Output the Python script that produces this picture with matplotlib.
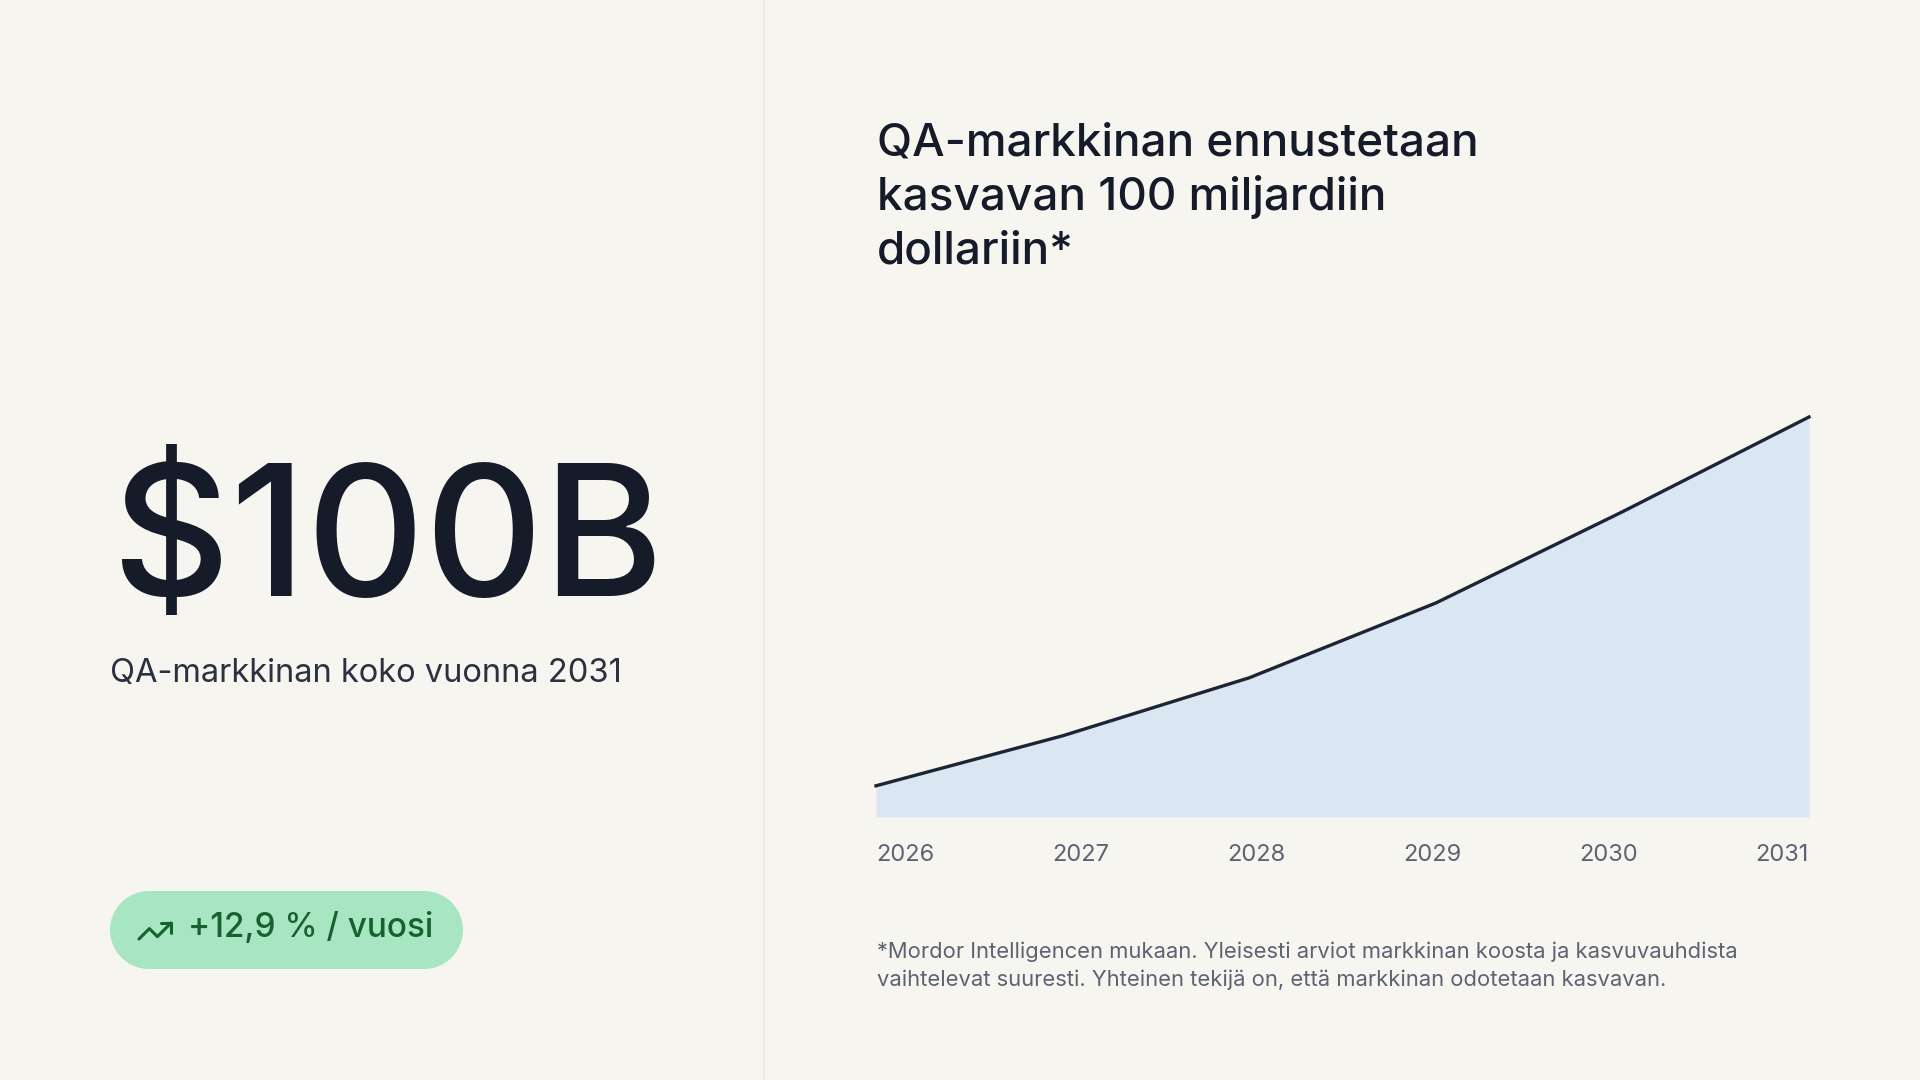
"""
QA market size slide: big number on the left, area chart on the right.
"""

import matplotlib

matplotlib.use("Agg")
import matplotlib.pyplot as plt
from matplotlib.patches import Circle, Rectangle

plt.rcParams["font.family"] = ["Inter", "DejaVu Sans"]

YEARS = [2026, 2027, 2028, 2029, 2030, 2031]
MARKET_SIZE = [7.8, 20.3, 34.8, 53.5, 76.3, 100.0]
YEAR_LABELS = ["2026", "2027", "2028", "2029", "2030", "2031"]

BIG_NUMBER = "$100B"
BIG_CAPTION = "QA-markkinan koko vuonna 2031"
GROWTH_BADGE = "+12,9 % / vuosi"
TITLE_LINES = ["QA-markkinan ennustetaan", "kasvavan 100 miljardiin", "dollariin*"]
FOOTNOTE_LINES = [
    "*Mordor Intelligencen mukaan. Yleisesti arviot markkinan koosta ja kasvuvauhdista",
    "vaihtelevat suuresti. Yhteinen tekijä on, että markkinan odotetaan kasvavan.",
]

BG = "#f6f5f0"
INK = "#161b29"
MUTED = "#5d6373"
BADGE_BG = "#a8e6c3"
BADGE_INK = "#17602f"
W, H = 1920, 1080


def pill(ax, x, y, w, h, color):
    r = h / 2
    ax.add_patch(Rectangle((x + r, y), w - 2 * r, h, facecolor=color, edgecolor="none"))
    ax.add_patch(Circle((x + r, y + r), r, facecolor=color, edgecolor="none"))
    ax.add_patch(Circle((x + w - r, y + r), r, facecolor=color, edgecolor="none"))


def main() -> None:
    fig = plt.figure(figsize=(W / 100, H / 100), dpi=100, facecolor=BG)

    # full-figure canvas in pixel units (y downwards)
    cv = fig.add_axes([0, 0, 1, 1])
    cv.set_xlim(0, W)
    cv.set_ylim(H, 0)
    cv.set_aspect("equal")
    cv.axis("off")

    cv.plot([764, 764], [0, H], color="#ebeae4", linewidth=1.2)

    cv.text(112, 596, BIG_NUMBER, fontsize=132, fontweight="medium", color=INK, va="baseline")
    cv.text(110, 682, BIG_CAPTION, fontsize=23.5, color="#2b3140", va="baseline")

    pill(cv, 110, 891, 353, 78, BADGE_BG)
    cv.text(188, 937, GROWTH_BADGE, fontsize=24, fontweight="medium", color=BADGE_INK, va="baseline")
    # lucide "trending-up" icon, viewBox units mapped onto the badge
    def icon(pts):
        return [139 + (u - 2) * 1.6 for u, _ in pts], [923 + (v - 7) * 1.6 for _, v in pts]
    for pts in ([(22, 7), (13.5, 15.5), (8.5, 10.5), (2, 17)], [(16, 7), (22, 7), (22, 13)]):
        xs, ys = icon(pts)
        cv.plot(xs, ys, color=BADGE_INK, linewidth=2.2, solid_capstyle="round", solid_joinstyle="round")

    for i, line in enumerate(TITLE_LINES):
        cv.text(877, 156 + i * 54, line, fontsize=33, fontweight="medium", color=INK, va="baseline")

    for i, line in enumerate(FOOTNOTE_LINES):
        cv.text(877, 958 + i * 28, line, fontsize=15.8, color=MUTED, va="baseline")

    # area chart
    left, right, top, bottom = 876, 1809, 417, 817
    ax = fig.add_axes([left / W, 1 - bottom / H, (right - left) / W, (bottom - top) / H])
    ax.set_facecolor("none")
    ax.fill_between(YEARS, MARKET_SIZE, 0, color="#dae6f2", linewidth=0)
    ax.plot(YEARS, MARKET_SIZE, color="#1d2433", linewidth=2.4,
            solid_joinstyle="round", clip_on=False)
    ax.set_xlim(YEARS[0], YEARS[-1])
    ax.set_ylim(0, 100)
    ax.axis("off")

    # year labels spread edge to edge (space-between)
    texts = [cv.text(0, 861, lab, fontsize=17, color=MUTED, va="baseline", ha="center")
             for lab in YEAR_LABELS]
    fig.canvas.draw()
    widths = [t.get_window_extent().width for t in texts]
    n = len(texts)
    gap = (right - left - sum(widths)) / (n - 1)
    x = left
    for t, w in zip(texts, widths):
        t.set_x(x + w / 2)
        x += w + gap

    fig.savefig("out.png", dpi=100, facecolor=BG)
    plt.close(fig)


if __name__ == "__main__":
    main()
